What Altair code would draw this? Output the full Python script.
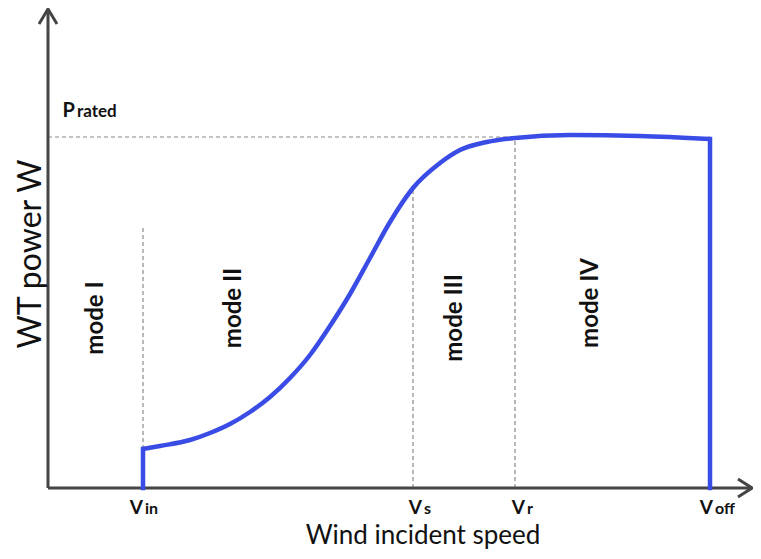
import altair as alt
import pandas as pd

# plot units: x = horizontal offset from the y axis, y = height above the x axis
curve_x = [95, 112, 142, 162, 182, 202, 222, 242, 262, 282, 302, 322, 342, 365, 392, 412, 439, 467, 522, 592, 662]
curve_y = [39, 42, 48, 55, 64, 76, 91, 110, 133, 162, 194, 230, 266, 300, 325, 338, 346, 350, 353, 352, 349]

v_in, v_s, v_r, v_off = 95, 365, 467, 662
p_rated = 351
p_at_vin, p_at_vs, p_at_off = 39, 300, 349

mode_labels = ["mode I", "mode II", "mode III", "mode IV"]
mode_x = [48, 186, 407, 543]
mode_y = [170, 180, 170, 185]

speed_main = ["V", "V", "V", "V"]
speed_sub = ["in", "s", "r", "off"]
speed_x = [96, 375, 478, 666]

axis_x = [0, 0, -9, 0, 9, 0, 704, 690, 704, 690]
axis_y = [479, 0, 464, 479, 464, 0, 0, 9, 0, -9]
axis_seg = ["y", "y", "ya", "ya", "ya", "x", "x", "xa", "xa", "xa"]

xs = alt.Scale(domain=[0, 705], nice=False, zero=False)
ys = alt.Scale(domain=[0, 480], nice=False, zero=False)
X = lambda f="x": alt.X(f"{f}:Q", scale=xs, axis=None)
Y = lambda f="y": alt.Y(f"{f}:Q", scale=ys, axis=None)

axes_df = pd.DataFrame({"x": axis_x, "y": axis_y, "seg": axis_seg, "o": list(range(len(axis_x)))})
axes = alt.Chart(axes_df).mark_line(color="#454545", strokeWidth=3, strokeCap="butt").encode(
    x=X(), y=Y(), detail="seg:N", order="o:Q")

dash_df = pd.DataFrame({
    "x": [v_in, v_s, v_r, 0],
    "x2": [v_in, v_s, v_r, v_r],
    "y": [p_at_vin, 0, 0, p_rated],
    "y2": [260, p_at_vs, p_rated - 1, p_rated],
})
dashes = alt.Chart(dash_df).mark_rule(color="#8a8a8a", strokeWidth=1.2, strokeDash=[4, 3]).encode(
    x=X(), x2="x2:Q", y=Y(), y2="y2:Q")

curve_df = pd.DataFrame({"x": curve_x, "y": curve_y})
curve = alt.Chart(curve_df).mark_line(color="#3A4CE6", strokeWidth=4.5, interpolate="monotone").encode(
    x=X(), y=Y())

vert_df = pd.DataFrame({"x": [v_in, v_off], "y": [0, 0], "y2": [p_at_vin, p_at_off]})
verts = alt.Chart(vert_df).mark_rule(color="#3A4CE6", strokeWidth=4.5, strokeCap="square").encode(
    x=X(), y=Y(), y2="y2:Q")

mode_df = pd.DataFrame({"x": mode_x, "y": mode_y, "t": mode_labels})
modes = alt.Chart(mode_df).mark_text(angle=270, fontSize=24, fontWeight="bold", font="Lato",
                                     align="center", baseline="middle", color="#111").encode(
    x=X(), y=Y(), text="t:N")

sp_df = pd.DataFrame({"x": speed_x, "y": [-26] * 4, "m": speed_main, "s": speed_sub})
sp_main = alt.Chart(sp_df).mark_text(fontSize=19, fontWeight="bold", font="Lato", align="right", dx=-1,
                                     baseline="alphabetic", color="#111").encode(x=X(), y=Y(), text="m:N")
sp_sub = alt.Chart(sp_df).mark_text(fontSize=16, fontWeight="bold", font="Lato", align="left", dx=1,
                                    baseline="alphabetic", color="#111").encode(x=X(), y=Y(), text="s:N")

pr_df = pd.DataFrame({"x": [28], "y": [371], "m": ["P"], "s": ["rated"]})
pr_main = alt.Chart(pr_df).mark_text(fontSize=20, fontWeight="bold", font="Lato", align="right", dx=-1,
                                     baseline="alphabetic", color="#111").encode(x=X(), y=Y(), text="m:N")
pr_sub = alt.Chart(pr_df).mark_text(fontSize=17, fontWeight="bold", font="Lato", align="left", dx=1,
                                    baseline="alphabetic", color="#111").encode(x=X(), y=Y(), text="s:N")

xt_df = pd.DataFrame({"x": [375], "y": [-56], "t": ["Wind incident speed"]})
xtitle = alt.Chart(xt_df).mark_text(fontSize=26, font="Lato", align="center", baseline="alphabetic",
                                    color="#111").encode(x=X(), y=Y(), text="t:N")
yt_df = pd.DataFrame({"x": [-7], "y": [234], "t": ["WT power W"]})
ytitle = alt.Chart(yt_df).mark_text(fontSize=32, font="Lato", angle=270, align="center",
                                    baseline="alphabetic", color="#111").encode(x=X(), y=Y(), text="t:N")

chart = alt.layer(dashes, axes, curve, verts, modes, sp_main, sp_sub, pr_main, pr_sub, xtitle, ytitle).properties(
    width=705, height=480,
    autosize=alt.AutoSizeParams(type="none"),
    padding={"left": 40, "top": 0, "right": 0, "bottom": 61},
).configure_view(stroke=None)

chart.save("out.html", embed_options={"renderer": "svg", "actions": False})
